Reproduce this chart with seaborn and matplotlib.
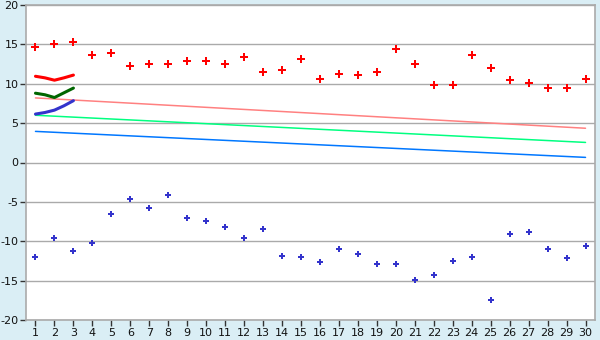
import matplotlib
matplotlib.use("Agg")
import matplotlib.pyplot as plt
import seaborn as sns
import pandas as pd
import numpy as np

days = list(range(1, 31))
high_pts = [14.7, 15.1, 15.35, 13.6, 13.95, 12.2, 12.45, 12.45, 12.95, 12.95,
            12.45, 13.35, 11.55, 11.7, 13.2, 10.55, 11.2, 11.05, 11.55, 14.35,
            12.45, 9.8, 9.9, 13.6, 11.95, 10.45, 10.05, 9.4, 9.4, 10.55]
low_pts = [-12.0, -9.6, -11.2, -10.2, -6.55, -4.65, -5.8, -4.15, -7.05, -7.4,
           -8.2, -9.6, -8.45, -11.85, -12.0, -12.6, -10.95, -11.6, -12.85, -12.85,
           -14.9, -14.25, -12.5, -12.0, -17.4, -9.05, -8.8, -10.95, -12.1, -10.6]

short_x = [1, 1.5, 2, 2.5, 3]
short_red = [10.95, 10.75, 10.45, 10.75, 11.1]
short_green = [8.8, 8.6, 8.25, 8.85, 9.45]
short_blue = [6.15, 6.35, 6.65, 7.2, 7.85]

trend_x = [1, 30]
trend_pink = [8.2, 4.35]
trend_green = [6.0, 2.55]
trend_blue = [3.95, 0.65]

y_ticks = [-20, -15, -10, -5, 0, 5, 10, 15, 20]

bg = "#DAEEF5"
sns.set_theme(style="white")
plt.rcParams['font.family'] = ['DejaVu Sans']
plt.rcParams['axes.unicode_minus'] = False

fig = plt.figure(figsize=(6, 3.4), dpi=100, facecolor=bg)
ax = fig.add_axes([26/600, 1-320/340, (595-26)/600, (320-5)/340])
ax.set_facecolor("white")

for vals, col in [(trend_pink, "#FF8080"), (trend_green, "#00FF80"), (trend_blue, "#0077FF")]:
    sns.lineplot(x=trend_x, y=vals, color=col, lw=1.1, ax=ax)

for vals, col in [(short_red, "#FF0000"), (short_green, "#006600"), (short_blue, "#3333CC")]:
    sns.lineplot(x=short_x, y=vals, color=col, lw=2.2, ax=ax)

sns.scatterplot(x=days, y=high_pts, color="#FF0000", marker="P", s=26, linewidth=0, ax=ax)
sns.scatterplot(x=days, y=low_pts, color="#3333CC", marker="P", s=20, linewidth=0, ax=ax)

ax.set_xlim(0.5, 30.5)
ax.set_ylim(-20, 20)
ax.set_yticks(y_ticks)
ax.set_xticks(days)
ax.set_xticklabels([str(d) for d in days])
ax.grid(axis="y", color="#AAAAAA", lw=1)
ax.set_axisbelow(True)
for s in ["top", "right", "left", "bottom"]:
    ax.spines[s].set_color("#AAAAAA")
    ax.spines[s].set_linewidth(1.2)
ax.tick_params(axis="both", which="both", length=4, width=1, color="#333333",
               labelsize=8, labelcolor="#111111", pad=1.5, bottom=True, left=True)
ax.set_xlabel("")
ax.set_ylabel("")

fig.savefig("out.png", dpi=100, facecolor=bg)
